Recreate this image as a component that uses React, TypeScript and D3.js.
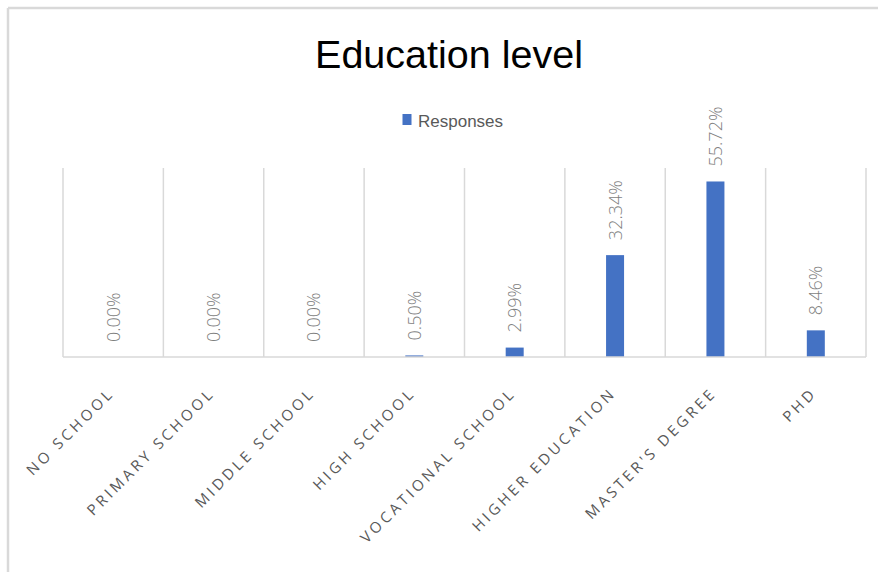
import React from "react";
import * as d3 from "d3";

const categories = [
  "NO SCHOOL",
  "PRIMARY SCHOOL",
  "MIDDLE SCHOOL",
  "HIGH SCHOOL",
  "VOCATIONAL SCHOOL",
  "HIGHER EDUCATION",
  "MASTER'S DEGREE",
  "PHD",
];
const responses = [0.0, 0.0, 0.0, 0.5, 2.99, 32.34, 55.72, 8.46];
const seriesName = "Responses";
const title = "Education level";

const W = 878;
const H = 572;
const plot = { left: 63, right: 866, top: 168, bottom: 357 };

export default function App() {
  const x = d3
    .scaleBand<string>()
    .domain(categories)
    .range([plot.left, plot.right])
    .paddingInner(0)
    .paddingOuter(0);
  const y = d3.scaleLinear().domain([0, 60]).range([plot.bottom, plot.top]);
  const barW = 18;
  const boundaries = d3.range(categories.length + 1).map((i) => plot.left + i * x.step());
  const grid = "#d9d9d9";

  return (
    <svg
      width={W}
      height={H}
      style={{ position: "absolute", left: 0, top: 0, background: "#fff" }}
    >
      <rect x={0} y={0} width={W} height={H} fill="#fff" />
      {/* frame */}
      <line x1={8} y1={8} x2={W} y2={8} stroke={grid} strokeWidth={2.5} />
      <line x1={8} y1={8} x2={8} y2={H} stroke={grid} strokeWidth={2.5} />

      <text
        x={449}
        y={68}
        textAnchor="middle"
        fontFamily="Liberation Sans, Arial, sans-serif"
        fontSize={39.5}
        fill="#000"
      >
        {title}
      </text>

      {/* legend */}
      <rect x={402.5} y={114} width={9} height={11} fill="#4472c4" />
      <text
        x={418}
        y={127}
        fontFamily="Liberation Sans, Arial, sans-serif"
        fontSize={17}
        fill="#595959"
      >
        {seriesName}
      </text>

      {/* gridlines */}
      {boundaries.map((bx, i) => (
        <line
          key={i}
          x1={bx}
          x2={bx}
          y1={plot.top}
          y2={plot.bottom}
          stroke={grid}
          strokeWidth={1.5}
        />
      ))}

      {/* bars */}
      {categories.map((c, i) => {
        const cx = (x(c) as number) + x.bandwidth() / 2;
        return (
          <rect
            key={c}
            x={cx - barW / 2}
            y={y(responses[i])}
            width={barW}
            height={plot.bottom - y(responses[i])}
            fill="#4472c4"
          />
        );
      })}

      {/* baseline */}
      <line
        x1={plot.left}
        x2={plot.right}
        y1={plot.bottom}
        y2={plot.bottom}
        stroke={grid}
        strokeWidth={1.5}
      />

      {/* data labels */}
      {categories.map((c, i) => {
        const cx = (x(c) as number) + x.bandwidth() / 2;
        const ly = y(responses[i]) - 15;
        return (
          <text
            key={c}
            transform={`translate(${cx + 6.5},${ly}) rotate(-90)`}
            fontFamily="Open Sans, sans-serif"
            fontWeight={300}
            fontSize={18}
            fill="#7f7f7f"
          >
            {responses[i].toFixed(2) + "%"}
          </text>
        );
      })}

      {/* category labels */}
      {categories.map((c) => {
        const cx = (x(c) as number) + x.bandwidth() / 2;
        return (
          <text
            key={c}
            transform={`translate(${cx + 2},${plot.bottom + 37}) rotate(-45)`}
            textAnchor="end"
            fontFamily="Open Sans, sans-serif"
            fontSize={15}
            letterSpacing={3.3}
            fill="#595959"
          >
            {c}
          </text>
        );
      })}
    </svg>
  );
}
